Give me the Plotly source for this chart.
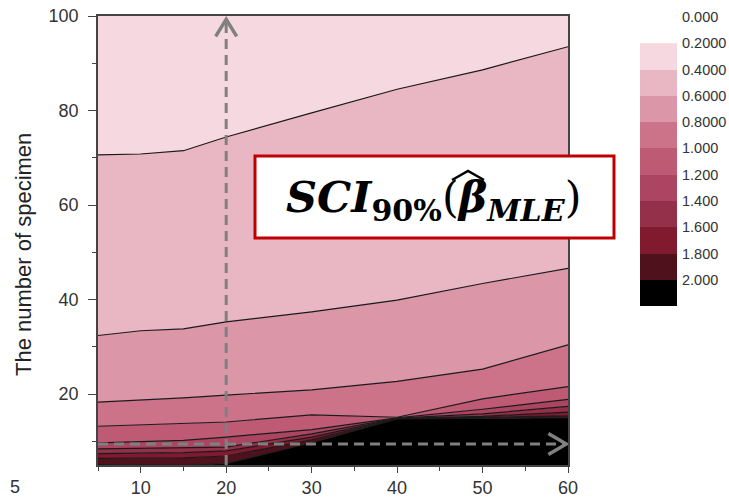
import plotly.graph_objects as go

# ---------------- data ----------------
x_vals = [5, 10, 15, 20, 30, 40, 50, 60]

# y-position of each contour boundary (iso-line) at each x
iso_040 = [70.6, 70.8, 71.5, 74.4, 79.5, 84.5, 88.6, 93.5]
iso_060 = [32.4, 33.4, 33.8, 35.3, 37.4, 39.9, 43.4, 46.6]
iso_080 = [18.3, 18.7, 19.2, 19.8, 20.9, 22.7, 25.3, 30.4]
iso_100 = [13.2, 13.5, 13.8, 14.1, 15.6, 15.1, 19.0, 21.6]
iso_120 = [9.7, 9.9, 10.2, 10.9, 12.5, 14.95, 16.8, 18.9]
iso_140 = [8.4, 8.5, 8.6, 8.8, 11.6, 14.9, 15.8, 17.4]
iso_160 = [7.4, 7.5, 7.6, 8.0, 10.9, 14.85, 15.3, 16.2]
iso_180 = [6.4, 6.4, 6.5, 6.9, 10.3, 14.8, 15.1, 15.4]
iso_200 = [5.1, 5.0, 4.9, 5.3, 9.7, 14.75, 14.95, 15.0]

level_vals = [0.0, 0.2, 0.4, 0.6, 0.8, 1.0, 1.2, 1.4, 1.6, 1.8, 2.0]
level_text = ["0.000", "0.2000", "0.4000", "0.6000", "0.8000", "1.000",
              "1.200", "1.400", "1.600", "1.800", "2.000"]
band_colors = ["#F6D8E0", "#E9B7C3", "#DB96A8", "#CD7389", "#BF5A74",
               "#AB4561", "#95304A", "#811A2F", "#4F111C", "#000000"]

x_ticks = [10, 20, 30, 40, 50, 60]
x_minor = [5, 15, 25, 35, 45, 55]
y_ticks = [20, 40, 60, 80, 100]
y_minor = [10, 30, 50, 70, 90]

arrow_x = 20
arrow_y = 9.45
arrow_top = 99.3
arrow_right = 59.8

# ---------------- figure ----------------
fig = go.Figure()

bounds = [iso_200, iso_180, iso_160, iso_140, iso_120, iso_100, iso_080, iso_060, iso_040]
fills = [band_colors[9], band_colors[8], band_colors[7], band_colors[6], band_colors[5],
         band_colors[4], band_colors[3], band_colors[2], band_colors[1]]
for i, (b, c) in enumerate(zip(bounds, fills)):
    fig.add_trace(go.Scatter(
        x=x_vals, y=b, mode="lines",
        line=dict(color="#1a1a1a", width=1.2),
        fill="tozeroy" if i == 0 else "tonexty",
        fillcolor=c, showlegend=False, hoverinfo="skip",
        xaxis="x", yaxis="y"))

cs = []
n = len(band_colors)
for k, c in enumerate(band_colors):
    cs.append([k / n, c])
    cs.append([(k + 1) / n, c])
fig.add_trace(go.Heatmap(
    x=[0], y=[v + 0.1 for v in level_vals[1:]],
    z=[[k] for k in range(n)], colorscale=cs, zmin=-0.5, zmax=n - 0.5,
    showscale=False, xaxis="x2", yaxis="y2", hoverinfo="skip"))

L, R, T, B = 98, 52, 16, 35
W, H = 729, 500
pw = W - L - R
ph = H - T - B

def px(xp):
    return (xp - L) / pw

def py(yp):
    return (H - B - yp) / ph

tick_font = dict(family="Liberation Sans, Arial", size=18, color="#333333")

fig.update_layout(
    template="none",
    width=W, height=H,
    margin=dict(l=L, r=R, t=T, b=B, pad=0),
    paper_bgcolor="white",
    plot_bgcolor="white",
    showlegend=False,
    xaxis=dict(domain=[0, (568 - L) / pw], range=[5, 60], tickmode="array",
               tickvals=x_ticks, ticks="outside", ticklen=6,
               tickwidth=1.2, tickcolor="#444", showline=True, linecolor="#444",
               linewidth=1.5, mirror=True, showgrid=False, zeroline=False,
               tickfont=tick_font, anchor="y", automargin=False,
               minor=dict(tickvals=x_minor, ticks="outside", ticklen=4,
                          tickcolor="#444", tickwidth=1.2, showgrid=False)),
    yaxis=dict(domain=[0, 1], range=[5, 100], tickmode="array", tickvals=y_ticks,
               ticks="outside", ticklen=8, tickwidth=1.2, tickcolor="#444",
               showline=True, linecolor="#444", linewidth=1.5, mirror=True,
               showgrid=False, zeroline=False, tickfont=tick_font,
               ticklabelstandoff=6, anchor="x", automargin=False,
               minor=dict(tickvals=y_minor, ticks="outside", ticklen=4,
                          tickcolor="#444", tickwidth=1.2, showgrid=False)),
    xaxis2=dict(domain=[px(640), 1.0], range=[-0.5, 0.5], visible=False,
                anchor="y2", automargin=False),
    yaxis2=dict(domain=[py(306), py(17)], range=[2.2, 0.0], anchor="x2", side="right",
                tickmode="array", tickvals=level_vals, ticktext=level_text,
                ticks="", showgrid=False, zeroline=False, showline=False,
                ticklabelstandoff=4, automargin=False,
                tickfont=dict(family="Liberation Sans, Arial", size=14.5, color="#333333")),
)

gray = "#808080"
shapes = [
    # background of the lowest-value band (plot area only)
    dict(type="rect", xref="x domain", yref="y domain", x0=0, x1=1, y0=0, y1=1,
         fillcolor=band_colors[0], line=dict(width=0), layer="below"),
    dict(type="line", xref="x", yref="y", x0=arrow_x, x1=arrow_x, y0=5, y1=arrow_top,
         line=dict(color=gray, width=3, dash="10px,6px")),
    dict(type="path", xref="x", yref="y",
         path=f"M {arrow_x - 1.23} {arrow_top - 3.6} L {arrow_x} {arrow_top} L {arrow_x + 1.23} {arrow_top - 3.6}",
         line=dict(color=gray, width=3.5)),
    dict(type="line", xref="x", yref="y", x0=5, x1=arrow_right, y0=arrow_y, y1=arrow_y,
         line=dict(color=gray, width=3, dash="10px,6px")),
    dict(type="path", xref="x", yref="y",
         path=f"M {arrow_right - 2.1} {arrow_y + 2.22} L {arrow_right} {arrow_y} L {arrow_right - 2.1} {arrow_y - 2.22}",
         line=dict(color=gray, width=3.5)),
    dict(type="rect", xref="paper", yref="paper", x0=px(255), x1=px(614),
         y0=py(238), y1=py(156), line=dict(color="#C00000", width=3),
         fillcolor="white"),
    # wide hat over beta
    dict(type="path", xref="paper", yref="paper",
         path=f"M {px(452)} {py(180)} L {px(468)} {py(171)} L {px(484)} {py(180)}",
         line=dict(color="black", width=2.5)),
]
fig.update_layout(shapes=shapes)

fig.add_annotation(
    x=px(433), y=py(200), xref="paper", yref="paper", showarrow=False,
    xanchor="center", yanchor="middle",
    text="<b><i>SCI</i><sub>90%</sub></b>(<b><i>\u03b2<sub>MLE</sub></i></b>)",
    font=dict(family="DejaVu Serif", size=43, color="black"))

fig.add_annotation(
    x=px(23), y=py(255), xref="paper", yref="paper", showarrow=False,
    textangle=-90, xanchor="center", yanchor="middle",
    text="The number of specimen",
    font=dict(family="Liberation Sans, Arial", size=22, color="#222222"))

fig.add_annotation(
    x=px(15), y=py(487), xref="paper", yref="paper", showarrow=False,
    xanchor="center", yanchor="middle", text="5", font=tick_font)

fig.write_html("out.html")
